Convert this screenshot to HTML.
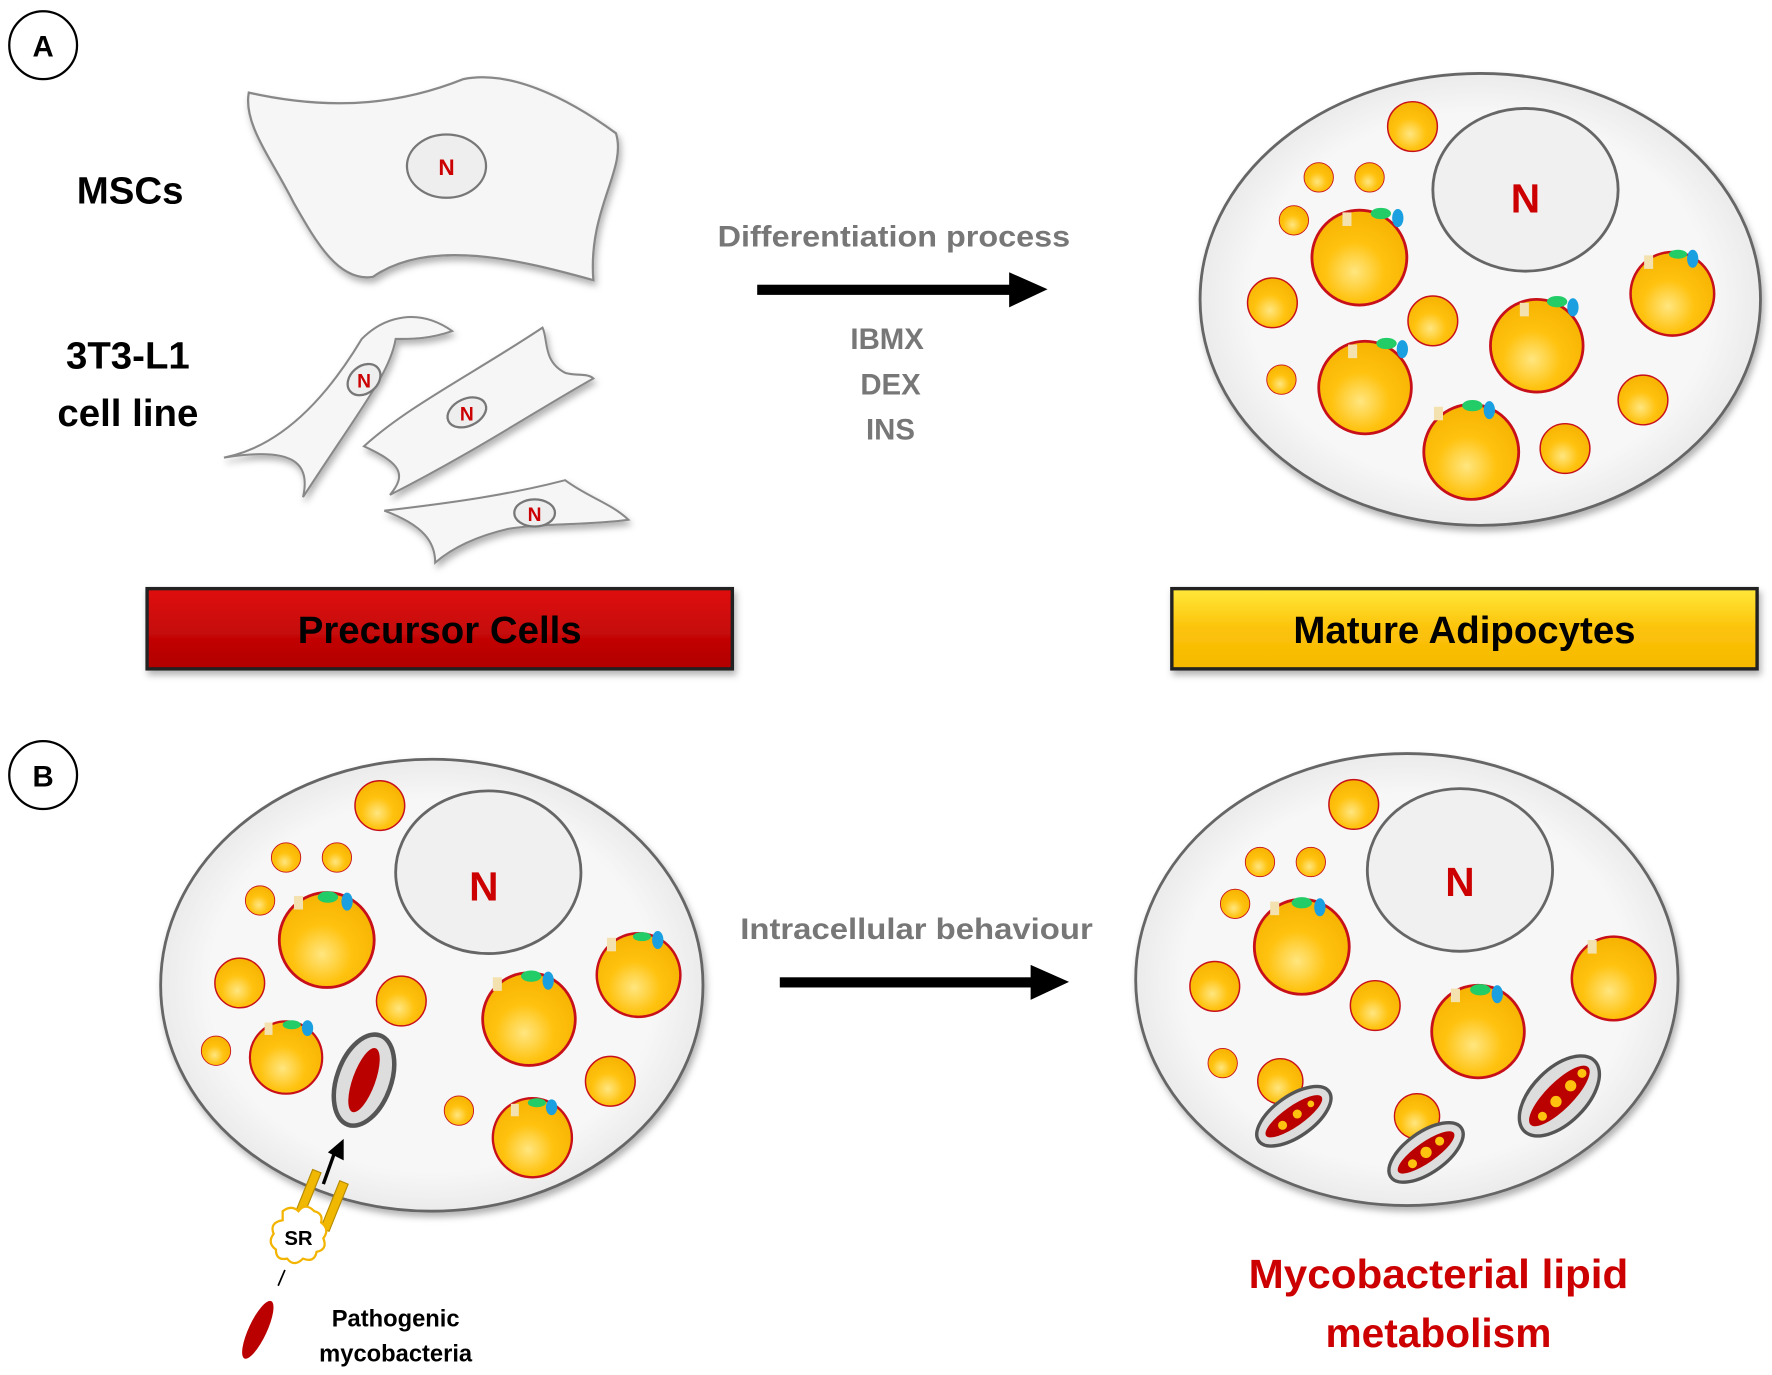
<!DOCTYPE html>
<html><head><meta charset="utf-8"><style>
html,body{margin:0;padding:0;background:#fff;}
svg{display:block;}
text{font-family:"Liberation Sans",sans-serif;font-weight:bold;}
</style></head><body>
<svg width="1772" height="1375" viewBox="0 0 1568 1217" xmlns="http://www.w3.org/2000/svg">
<defs>
<radialGradient id="fat" cx="0.45" cy="0.65" r="0.7">
<stop offset="0" stop-color="#ffe680"/><stop offset="0.45" stop-color="#ffc20e"/><stop offset="1" stop-color="#f5b000"/></radialGradient>
<radialGradient id="cell" cx="0.5" cy="0.5" r="0.55">
<stop offset="0.75" stop-color="#f7f7f7"/><stop offset="1" stop-color="#e4e4e4"/></radialGradient>
<linearGradient id="red" x1="0" y1="0" x2="0" y2="1"><stop offset="0" stop-color="#e01010"/><stop offset="1" stop-color="#b00000"/></linearGradient>
<linearGradient id="yel" x1="0" y1="0" x2="0" y2="1"><stop offset="0" stop-color="#ffe83a"/><stop offset="0.5" stop-color="#fcc30a"/><stop offset="1" stop-color="#f5b800"/></linearGradient>
<filter id="sh" x="-10%" y="-10%" width="120%" height="130%"><feDropShadow dx="2" dy="4" stdDeviation="3" flood-color="#000" flood-opacity="0.3"/></filter>
<g id="d"><circle r="1" fill="url(#fat)" stroke="#c8101a" stroke-width="0.06"/></g>
</defs>

<circle cx="38" cy="40" r="30" fill="#fff" stroke="#000" stroke-width="2"/>
<text x="38" y="50" font-size="26" text-anchor="middle">A</text>
<circle cx="38" cy="686" r="30" fill="#fff" stroke="#000" stroke-width="2"/>
<text x="38" y="696" font-size="26" text-anchor="middle">B</text>

<path d="M220,82 C300,100 360,90 410,70 C450,62 500,85 545,118 C555,150 520,185 525,248 C460,230 380,210 330,245 C300,250 280,215 260,180 C240,140 215,110 220,82 Z" fill="#f6f6f6" stroke="#888" stroke-width="2" filter="url(#sh)"/>
<ellipse cx="395" cy="147" rx="35" ry="28" fill="#eee" stroke="#777" stroke-width="2"/>
<text x="395" y="155" font-size="20" fill="#c00" text-anchor="middle">N</text>
<text x="115" y="180" font-size="34" text-anchor="middle">MSCs</text>
<text x="113" y="326" font-size="34" text-anchor="middle">3T3-L1</text>
<text x="113" y="377" font-size="34" text-anchor="middle">cell line</text>

<g fill="#f6f6f6" stroke="#888" stroke-width="1.8" filter="url(#sh)">
<path d="M198,405 C250,395 290,350 320,300 C340,280 370,272 400,293 C380,300 365,300 350,300 C345,330 320,360 268,440 C275,410 260,395 198,405 Z"/>
<path d="M322,395 C360,360 420,330 480,290 C485,300 480,320 500,330 C510,333 520,330 525,335 C480,360 420,400 345,438 C360,420 355,410 322,395 Z"/>
<path d="M340,452 C400,445 450,438 500,425 C520,440 540,445 556,460 C520,465 480,463 450,468 C420,475 400,485 385,498 C385,480 375,465 340,452 Z"/>
</g>
<g fill="#eee" stroke="#777" stroke-width="2">
<ellipse cx="322" cy="336" rx="16" ry="12" transform="rotate(-40 322 336)"/>
<ellipse cx="413" cy="365" rx="18" ry="12" transform="rotate(-25 413 365)"/>
<ellipse cx="473" cy="454" rx="18" ry="12"/>
</g>
<g font-size="17" fill="#c00" text-anchor="middle"><text x="322" y="343">N</text><text x="413" y="372">N</text><text x="473" y="461">N</text></g>

<rect x="130" y="521" width="518" height="71" fill="url(#red)" stroke="#222" stroke-width="3" filter="url(#sh)"/>
<text x="389" y="569" font-size="34" text-anchor="middle" fill="#000">Precursor Cells</text>
<rect x="1037" y="521" width="518" height="71" fill="url(#yel)" stroke="#222" stroke-width="3" filter="url(#sh)"/>
<text x="1296" y="569" font-size="34" text-anchor="middle" fill="#000">Mature Adipocytes</text>

<text x="635" y="218" font-size="26" fill="#777" textLength="312" lengthAdjust="spacingAndGlyphs">Differentiation process</text>
<rect x="670" y="252" width="228" height="9" fill="#000"/>
<polygon points="893,241 927,256 893,272" fill="#000"/>
<g font-size="26" fill="#777" text-anchor="middle"><text x="785" y="309">IBMX</text><text x="788" y="349">DEX</text><text x="788" y="389">INS</text></g>

<text x="655" y="831" font-size="26" fill="#777" textLength="312" lengthAdjust="spacingAndGlyphs">Intracellular behaviour</text>
<rect x="690" y="865" width="228" height="9" fill="#000"/>
<polygon points="912,854 946,869 912,885" fill="#000"/>

<ellipse cx="1310" cy="265" rx="248" ry="200" fill="url(#cell)" stroke="#666" stroke-width="2.5" filter="url(#sh)"/>
<ellipse cx="1350" cy="168" rx="82" ry="72" fill="#f0f0f0" stroke="#666" stroke-width="2.5"/>
<text x="1350" y="188" font-size="36" fill="#c00" text-anchor="middle">N</text>
<use href="#d" transform="translate(1250,112) scale(22)"/>
<use href="#d" transform="translate(1167,157) scale(13)"/>
<use href="#d" transform="translate(1212,157) scale(13)"/>
<use href="#d" transform="translate(1145,195) scale(13)"/>
<use href="#d" transform="translate(1203,228) scale(42)"/>
<use href="#d" transform="translate(1126,268) scale(22)"/>
<use href="#d" transform="translate(1268,284) scale(22)"/>
<use href="#d" transform="translate(1360,306) scale(41)"/>
<use href="#d" transform="translate(1480,260) scale(37)"/>
<use href="#d" transform="translate(1134,336) scale(13)"/>
<use href="#d" transform="translate(1208,343) scale(41)"/>
<use href="#d" transform="translate(1302,400) scale(42)"/>
<use href="#d" transform="translate(1385,397) scale(22)"/>
<use href="#d" transform="translate(1454,354) scale(22)"/>
<g stroke="none">
<ellipse cx="1222" cy="189" rx="9" ry="5" fill="#2c6"/><ellipse cx="1237" cy="193" rx="5" ry="8" fill="#1aa0e0"/><rect x="1188" y="188" width="8" height="12" fill="#f3e2b0"/>
<ellipse cx="1378" cy="267" rx="9" ry="5" fill="#2c6"/><ellipse cx="1392" cy="272" rx="5" ry="8" fill="#1aa0e0"/><rect x="1345" y="268" width="8" height="12" fill="#f3e2b0"/>
<ellipse cx="1227" cy="304" rx="9" ry="5" fill="#2c6"/><ellipse cx="1241" cy="309" rx="5" ry="8" fill="#1aa0e0"/><rect x="1193" y="305" width="8" height="12" fill="#f3e2b0"/>
<ellipse cx="1303" cy="359" rx="9" ry="5" fill="#2c6"/><ellipse cx="1318" cy="363" rx="5" ry="8" fill="#1aa0e0"/><rect x="1269" y="360" width="8" height="12" fill="#f3e2b0"/>
<ellipse cx="1485" cy="225" rx="8" ry="4" fill="#2c6"/><ellipse cx="1498" cy="229" rx="5" ry="8" fill="#1aa0e0"/><rect x="1455" y="226" width="8" height="12" fill="#f3e2b0"/>
</g>

<ellipse cx="382" cy="872" rx="240" ry="200" fill="url(#cell)" stroke="#666" stroke-width="2.5" filter="url(#sh)"/>
<ellipse cx="432" cy="772" rx="82" ry="72" fill="#f0f0f0" stroke="#666" stroke-width="2.5"/>
<text x="428" y="797" font-size="36" fill="#c00" text-anchor="middle">N</text>
<use href="#d" transform="translate(336,713) scale(22)"/>
<use href="#d" transform="translate(253,759) scale(13)"/>
<use href="#d" transform="translate(298,759) scale(13)"/>
<use href="#d" transform="translate(230,797) scale(13)"/>
<use href="#d" transform="translate(289,832) scale(42)"/>
<use href="#d" transform="translate(212,870) scale(22)"/>
<use href="#d" transform="translate(355,886) scale(22)"/>
<use href="#d" transform="translate(468,902) scale(41)"/>
<use href="#d" transform="translate(565,863) scale(37)"/>
<use href="#d" transform="translate(191,930) scale(13)"/>
<use href="#d" transform="translate(253,936) scale(32)"/>
<use href="#d" transform="translate(406,983) scale(13)"/>
<use href="#d" transform="translate(540,957) scale(22)"/>
<use href="#d" transform="translate(471,1007) scale(35)"/>
<g>
<ellipse cx="290" cy="794" rx="9" ry="5" fill="#2c6"/><ellipse cx="307" cy="798" rx="5" ry="8" fill="#1aa0e0"/><rect x="260" y="793" width="8" height="12" fill="#f3e2b0"/>
<ellipse cx="470" cy="864" rx="9" ry="5" fill="#2c6"/><ellipse cx="485" cy="868" rx="5" ry="8" fill="#1aa0e0"/><rect x="436" y="865" width="8" height="12" fill="#f3e2b0"/>
<ellipse cx="568" cy="829" rx="8" ry="4" fill="#2c6"/><ellipse cx="582" cy="832" rx="5" ry="8" fill="#1aa0e0"/><rect x="537" y="830" width="8" height="12" fill="#f3e2b0"/>
<ellipse cx="258" cy="907" rx="8" ry="4" fill="#2c6"/><ellipse cx="272" cy="910" rx="5" ry="7" fill="#1aa0e0"/><rect x="234" y="905" width="7" height="11" fill="#f3e2b0"/>
<ellipse cx="475" cy="976" rx="8" ry="4" fill="#2c6"/><ellipse cx="488" cy="980" rx="5" ry="7" fill="#1aa0e0"/><rect x="452" y="977" width="7" height="11" fill="#f3e2b0"/>
</g>
<ellipse cx="322" cy="956" rx="24" ry="42" transform="rotate(20 322 956)" fill="#ddd" stroke="#555" stroke-width="4"/>
<ellipse cx="322" cy="956" rx="10" ry="30" transform="rotate(20 322 956)" fill="#b00"/>
<g fill="#f0b800" stroke="#b58a00" stroke-width="1">
<rect x="268" y="1035" width="8" height="45" transform="rotate(22 272 1057)"/>
<rect x="292" y="1045" width="8" height="45" transform="rotate(22 296 1067)"/>
</g>
<line x1="286" y1="1048" x2="296" y2="1020" stroke="#000" stroke-width="3"/>
<polygon points="290,1020 304,1008 304,1027" fill="#000"/>
<path d="M250,1072 q8,-6 14,0 q6,-8 14,0 q8,2 6,10 q8,6 2,14 q4,10 -6,12 q-2,10 -12,6 q-8,8 -14,0 q-10,2 -10,-8 q-8,-6 -2,-14 q-4,-10 8,-12 z" fill="#fff" stroke="#f3b400" stroke-width="2"/>
<text x="264" y="1102" font-size="18" text-anchor="middle">SR</text>
<line x1="252" y1="1124" x2="246" y2="1138" stroke="#000" stroke-width="1.5"/>
<ellipse cx="228" cy="1177" rx="8" ry="28" transform="rotate(25 228 1177)" fill="#b00"/>
<text x="350" y="1174" font-size="21" text-anchor="middle">Pathogenic</text>
<text x="350" y="1205" font-size="21" text-anchor="middle">mycobacteria</text>

<ellipse cx="1245" cy="867" rx="240" ry="200" fill="url(#cell)" stroke="#666" stroke-width="2.5" filter="url(#sh)"/>
<ellipse cx="1292" cy="770" rx="82" ry="72" fill="#f0f0f0" stroke="#666" stroke-width="2.5"/>
<text x="1292" y="793" font-size="36" fill="#c00" text-anchor="middle">N</text>
<use href="#d" transform="translate(1198,712) scale(22)"/>
<use href="#d" transform="translate(1115,763) scale(13)"/>
<use href="#d" transform="translate(1160,763) scale(13)"/>
<use href="#d" transform="translate(1093,800) scale(13)"/>
<use href="#d" transform="translate(1152,838) scale(42)"/>
<use href="#d" transform="translate(1075,873) scale(22)"/>
<use href="#d" transform="translate(1217,890) scale(22)"/>
<use href="#d" transform="translate(1308,913) scale(41)"/>
<use href="#d" transform="translate(1428,866) scale(37)"/>
<use href="#d" transform="translate(1082,941) scale(13)"/>
<use href="#d" transform="translate(1133,957) scale(20)"/>
<use href="#d" transform="translate(1254,988) scale(20)"/>
<g>
<ellipse cx="1152" cy="799" rx="9" ry="5" fill="#2c6"/><ellipse cx="1168" cy="803" rx="5" ry="8" fill="#1aa0e0"/><rect x="1124" y="798" width="8" height="12" fill="#f3e2b0"/>
<ellipse cx="1310" cy="876" rx="9" ry="5" fill="#2c6"/><ellipse cx="1325" cy="880" rx="5" ry="8" fill="#1aa0e0"/><rect x="1284" y="875" width="8" height="12" fill="#f3e2b0"/>
<rect x="1405" y="832" width="8" height="12" fill="#f3e2b0"/>
</g>
<g>
<ellipse cx="1145" cy="988" rx="18" ry="38" transform="rotate(55 1145 988)" fill="#ddd" stroke="#555" stroke-width="3"/>
<ellipse cx="1145" cy="988" rx="9" ry="30" transform="rotate(55 1145 988)" fill="#b00"/>
<ellipse cx="1262" cy="1020" rx="18" ry="38" transform="rotate(55 1262 1020)" fill="#ddd" stroke="#555" stroke-width="3"/>
<ellipse cx="1262" cy="1020" rx="9" ry="30" transform="rotate(55 1262 1020)" fill="#b00"/>
<ellipse cx="1380" cy="970" rx="24" ry="44" transform="rotate(45 1380 970)" fill="#ddd" stroke="#555" stroke-width="3"/>
<ellipse cx="1380" cy="970" rx="12" ry="36" transform="rotate(45 1380 970)" fill="#b00"/>
</g>
<g fill="#ffc20e">
<circle cx="1135" cy="996" r="4"/><circle cx="1148" cy="986" r="4"/><circle cx="1160" cy="977" r="3"/>
<circle cx="1250" cy="1030" r="4"/><circle cx="1262" cy="1020" r="5"/><circle cx="1274" cy="1010" r="4"/>
<circle cx="1365" cy="988" r="4"/><circle cx="1377" cy="975" r="5"/><circle cx="1390" cy="961" r="5"/><circle cx="1400" cy="950" r="4"/>
</g>
<text x="1105" y="1140" font-size="36" fill="#c00" textLength="336" lengthAdjust="spacingAndGlyphs">Mycobacterial lipid</text>
<text x="1273" y="1192" font-size="36" fill="#c00" text-anchor="middle">metabolism</text>
</svg>
</body></html>
